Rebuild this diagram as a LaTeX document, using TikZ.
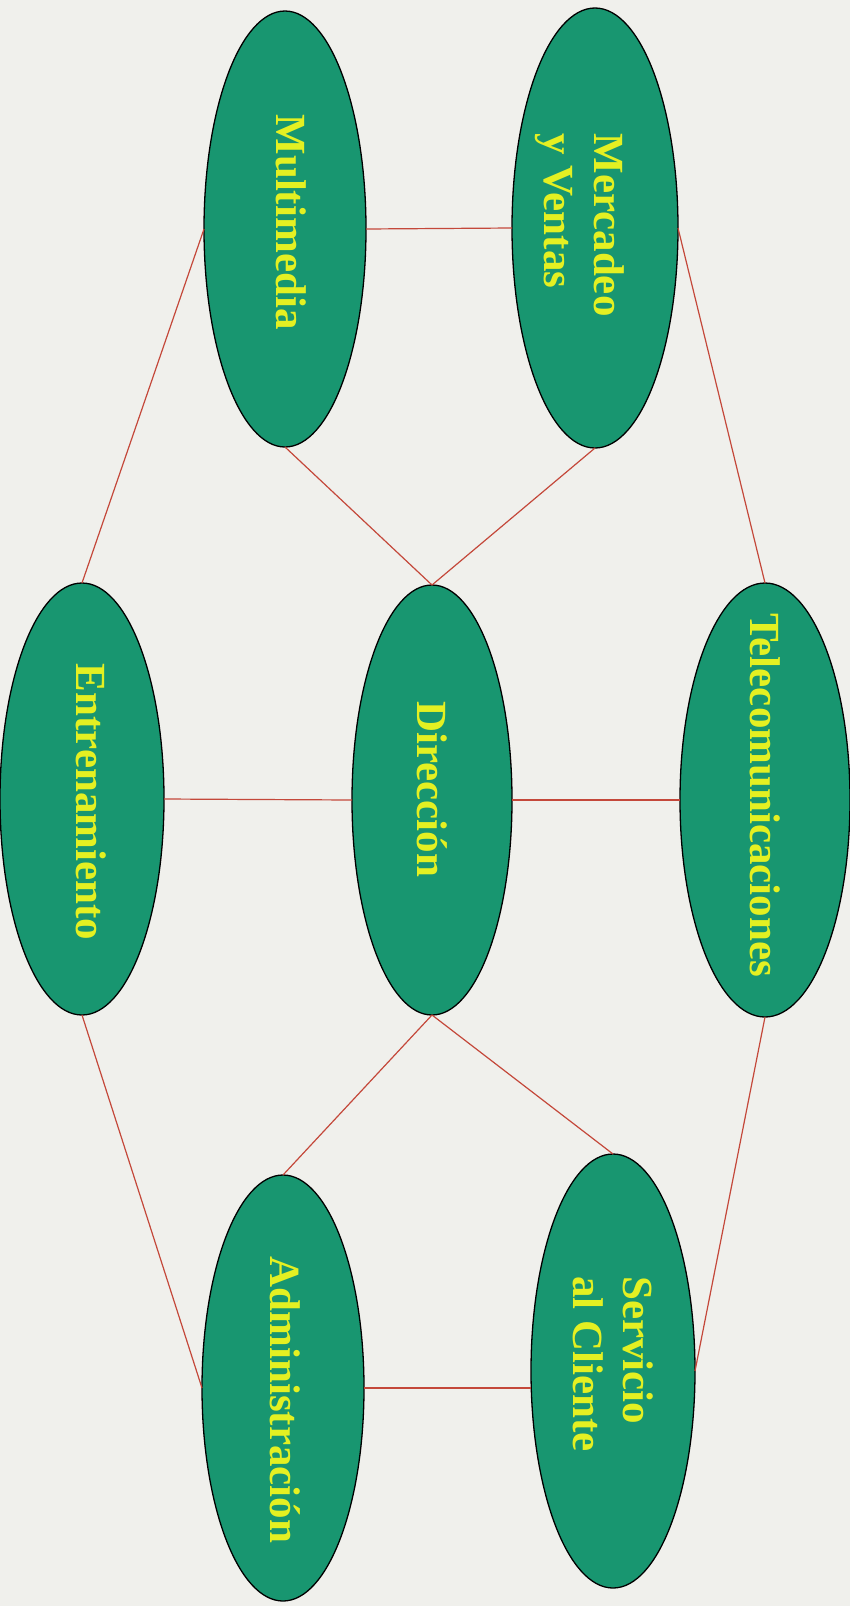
\documentclass[tikz,border=0pt]{standalone}
\usepackage{fontspec}
\setmainfont{Liberation Serif}
\usetikzlibrary{shapes.geometric}

\definecolor{paper}{RGB}{240,240,236}
\definecolor{blobfill}{RGB}{24,150,112}
\definecolor{blobtext}{RGB}{228,240,34}
\definecolor{linkred}{RGB}{196,72,58}

\tikzset{
  blob/.style={ellipse, draw=black, line width=1.3pt, fill=blobfill,
               inner sep=0pt, outer sep=0pt},
  blobtxt/.style={rotate=-90, text=blobtext, align=left, inner sep=0pt,
                  font=\bfseries\fontsize{43}{50}\selectfont},
  link/.style={draw=linkred, line width=1.2pt}
}

\begin{document}
\begin{tikzpicture}[x=1pt,y=1pt]
  % page
  \fill[paper] (0,0) rectangle (850,-1606);
  \useasboundingbox (0,0) rectangle (850,-1606);

  % department ellipses
  \node[blob, minimum width=162, minimum height=436] (mm) at (285,-229) {};
  \node[blob, minimum width=166, minimum height=440] (mv) at (595,-228) {};
  \node[blob, minimum width=164, minimum height=432] (en) at (82,-799) {};
  \node[blob, minimum width=160, minimum height=430] (di) at (432,-800) {};
  \node[blob, minimum width=170, minimum height=434] (te) at (765,-800) {};
  \node[blob, minimum width=162, minimum height=426] (ad) at (283,-1388) {};
  \node[blob, minimum width=164, minimum height=434] (sc) at (613,-1371) {};

  % connectors
  \draw[link] (mm.east) -- (mv.west);
  \draw[link] (mm.west) -- (en.north);
  \draw[link] (mm.south) -- (di.north);
  \draw[link] (mv.south) -- (di.north);
  \draw[link] (mv.east) -- (te.north);
  \draw[link] (en.east) -- (di.west);
  \draw[link] (di.east) -- (te.west);
  \draw[link] (en.south) -- (ad.west);
  \draw[link] (di.south) -- (ad.north);
  \draw[link] (di.south) -- (sc.north);
  \draw[link] (te.south) -- (sc.east);
  \draw[link] (ad.east) -- (sc.west |- ad.east);

  % labels
  \node[blobtxt] (mmt) at (291,-222) {Multimedia};
  \node[blobtxt] (mvt) at (580,-225) {Mercadeo\\y Ventas};
  \node[blobtxt] (ent) at (91,-802) {Entrenamiento};
  \node[blobtxt] (dit) at (432,-789) {Dirección};
  \node[blobtxt] (tet) at (765,-795) {Telecomunicaciones};
  \node[blobtxt] (adt) at (285,-1400) {Administración};
  \node[blobtxt] (sct) at (613,-1364) {Servicio\\al Cliente};
\end{tikzpicture}
\end{document}
